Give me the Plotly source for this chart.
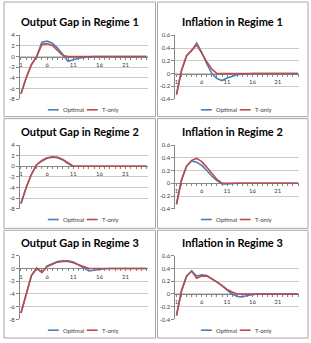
import plotly.graph_objects as go

# ---------------- data ----------------
cats = list(range(1, 26))
x_labels = [1, 6, 11, 16, 21]

og1_opt = [-7.0, -4.0, -1.5, 0.0, 2.7, 2.9, 2.5, 1.6, 0.4, -0.9, -0.6, -0.3, -0.15, -0.05] + [0.0] * 11
og1_ton = [-7.0, -4.0, -1.5, 0.0, 2.3, 2.4, 2.1, 1.2, 0.2, 0.0, 0.0, 0.0, 0.0, 0.0] + [0.0] * 11

inf1_opt = [-0.33, 0.05, 0.28, 0.36, 0.48, 0.33, 0.15, 0.0, -0.08, -0.11, -0.07, -0.04, -0.02, -0.01] + [0.0] * 11
inf1_ton = [-0.33, 0.05, 0.28, 0.36, 0.45, 0.32, 0.18, 0.07, 0.0, 0.0, 0.0, 0.0, 0.0, 0.0] + [0.0] * 11

og2_opt = [-7.0, -4.0, -1.5, 0.3, 1.0, 1.5, 1.7, 1.6, 1.2, 0.5, 0.0, 0.0, 0.0, 0.0] + [0.0] * 11
og2_ton = [-7.0, -4.0, -1.5, 0.3, 1.1, 1.6, 1.8, 1.7, 1.3, 0.6, 0.0, 0.0, 0.0, 0.0] + [0.0] * 11

inf2_opt = [-0.33, 0.05, 0.27, 0.35, 0.33, 0.28, 0.20, 0.11, 0.04, -0.01, -0.01, 0.0, 0.0, 0.0] + [0.0] * 11
inf2_ton = [-0.33, 0.05, 0.27, 0.36, 0.39, 0.34, 0.25, 0.15, 0.06, 0.0, 0.0, 0.0, 0.0, 0.0] + [0.0] * 11

og3_opt = [-7.0, -3.9, -1.1, 0.05, -0.6, 0.4, 0.8, 1.1, 1.2, 1.2, 1.0, 0.6, 0.1, -0.4, -0.25, -0.1, -0.03] + [0.0] * 8
og3_ton = [-7.0, -3.9, -1.1, 0.05, -0.6, 0.3, 0.7, 1.0, 1.1, 1.1, 0.9, 0.6, 0.2, 0.0, 0.0, 0.0, 0.0] + [0.0] * 8

inf3_opt = [-0.34, 0.05, 0.28, 0.36, 0.28, 0.30, 0.29, 0.24, 0.19, 0.13, 0.06, 0.0, -0.04, -0.045, -0.025, -0.01, 0.0] + [0.0] * 8
inf3_ton = [-0.34, 0.05, 0.28, 0.36, 0.245, 0.28, 0.28, 0.24, 0.19, 0.13, 0.07, 0.03, 0.0, 0.0, 0.0, 0.0, 0.0] + [0.0] * 8

og_ticks_a = [-8, -6, -4, -2, 0, 2, 4]
og_ticks_a_txt = ["-8", "-6", "-4", "-2", "0", "2", "4"]
og_ticks_b = [-8, -6, -4, -2, 0, 2]
og_ticks_b_txt = ["-8", "-6", "-4", "-2", "0", "2"]
inf_ticks = [-0.4, -0.2, 0, 0.2, 0.4, 0.6]
inf_ticks_txt = ["-0.4", "-0.2", "0", "0.2", "0.4", "0.6"]

series_names = ["Optimal", "T-only"]
titles = ["Output Gap in Regime 1", "Inflation in Regime 1",
          "Output Gap in Regime 2", "Inflation in Regime 2",
          "Output Gap in Regime 3", "Inflation in Regime 3"]

# ---------------- layout ----------------
W, H = 311, 343
BLUE = "#4A7EBB"
RED = "#BE4B48"
GRID = "#cbcbcb"
AXIS = "#868686"
TXT = "#404040"

def fx(p):
    return p / W

def fy(p):
    return 1 - p / H

col_box = [(3, 155), (157, 308)]
row_box = [(-2, 115), (117, 229), (231, 341)]
col_plot = [(19, 147), (175, 299)]
row_plot = [(32, 97), (144, 209), (257, 322)]
row_title = [18, 130, 243]
row_leg = [108, 220, 333]
col_title = [79, 232]

panels = [
    (og1_opt, og1_ton, [-8, 4], og_ticks_a, og_ticks_a_txt),
    (inf1_opt, inf1_ton, [-0.4, 0.6], inf_ticks, inf_ticks_txt),
    (og2_opt, og2_ton, [-8, 4], og_ticks_a, og_ticks_a_txt),
    (inf2_opt, inf2_ton, [-0.4, 0.6], inf_ticks, inf_ticks_txt),
    (og3_opt, og3_ton, [-8, 2], og_ticks_b, og_ticks_b_txt),
    (inf3_opt, inf3_ton, [-0.4, 0.6], inf_ticks, inf_ticks_txt),
]

x_ticktext = [str(c) if c in x_labels else "" for c in cats]

fig = go.Figure()
layout = dict(width=W, height=H, margin=dict(l=0, r=0, t=0, b=0),
              paper_bgcolor="white", plot_bgcolor="white", showlegend=False)
annotations = []
shapes = []

for i, (opt, ton, yr, tv, tt) in enumerate(panels):
    k = i + 1
    r, c = i // 2, i % 2
    xa = "x" if k == 1 else f"x{k}"
    ya = "y" if k == 1 else f"y{k}"
    xkey = "xaxis" if k == 1 else f"xaxis{k}"
    ykey = "yaxis" if k == 1 else f"yaxis{k}"

    fig.add_trace(go.Scatter(x=cats, y=opt, mode="lines", name=series_names[0], xaxis=xa, yaxis=ya,
                             line=dict(color=BLUE, width=1.6), showlegend=False))
    fig.add_trace(go.Scatter(x=cats, y=ton, mode="lines", name=series_names[1], xaxis=xa, yaxis=ya,
                             line=dict(color=RED, width=1.6), showlegend=False))

    x0, x1 = col_plot[c]
    y0, y1 = row_plot[r]
    ydom = [fy(y1), fy(y0)]
    # category axis crosses the value axis at 0
    zero_pos = ydom[0] + (0 - yr[0]) / (yr[1] - yr[0]) * (ydom[1] - ydom[0])
    layout[xkey] = dict(domain=[fx(x0), fx(x1)], anchor="free", position=zero_pos,
                        range=[0.8, 25.2], layer="below traces",
                        tickvals=cats, ticktext=x_ticktext, tickangle=0,
                        ticks="outside", ticklen=2, tickcolor=AXIS, tickwidth=1,
                        showgrid=False, zeroline=False, showline=True, linecolor=AXIS, linewidth=1,
                        tickfont=dict(size=6, color=TXT, family="Lato"), fixedrange=True)
    layout[ykey] = dict(domain=ydom, anchor=xa, range=yr, layer="below traces",
                        tickvals=tv, ticktext=tt, showgrid=True, gridcolor=GRID, gridwidth=1,
                        showline=True, linecolor=AXIS, linewidth=1,
                        ticks="outside", ticklen=3, tickcolor=AXIS,
                        zeroline=False,
                        tickfont=dict(size=6, color=TXT, family="Lato"), fixedrange=True)

    # panel border
    bx0, bx1 = col_box[c]
    by0, by1 = row_box[r]
    shapes.append(dict(type="rect", xref="paper", yref="paper",
                       x0=fx(bx0), x1=fx(bx1), y0=fy(by1), y1=fy(by0),
                       line=dict(color="#a6a6a6", width=1), fillcolor="rgba(0,0,0,0)", layer="below"))

    # title
    annotations.append(dict(x=fx(col_title[c]), y=fy(row_title[r]), xref="paper", yref="paper",
                            text="<b>" + titles[i] + "</b>", showarrow=False,
                            xanchor="center", yanchor="middle",
                            font=dict(size=11, color="black", family="Lato")))

    # legend
    cx = (bx0 + bx1) / 2
    ly = fy(row_leg[r])
    for j, (col, name) in enumerate([(BLUE, series_names[0]), (RED, series_names[1])]):
        sx = cx - 32 + j * 39
        shapes.append(dict(type="line", xref="paper", yref="paper",
                           x0=fx(sx), x1=fx(sx + 11), y0=ly, y1=ly,
                           line=dict(color=col, width=1.6)))
        annotations.append(dict(x=fx(sx + 13), y=ly, xref="paper", yref="paper", text=name,
                                showarrow=False, xanchor="left", yanchor="middle",
                                font=dict(size=6, color=TXT, family="Lato")))

layout["annotations"] = annotations
layout["shapes"] = shapes
fig.update_layout(**layout)
fig.write_html("out.html")
